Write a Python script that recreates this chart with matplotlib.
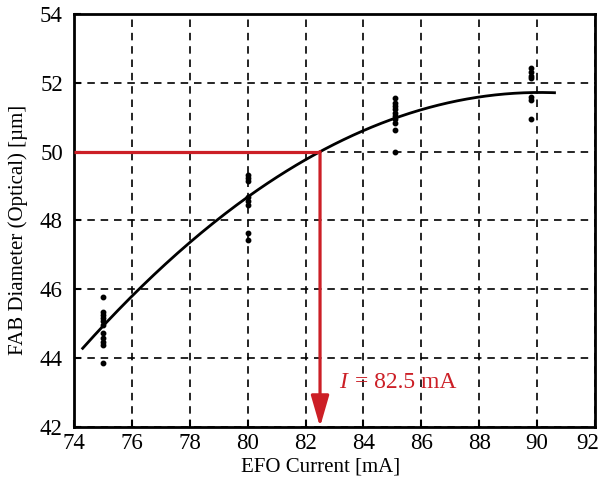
import numpy as np
import matplotlib
matplotlib.use("Agg")
import matplotlib.pyplot as plt
import matplotlib.transforms as mtransforms

plt.rcParams['font.family'] = ['Liberation Serif', 'DejaVu Serif']

# measured data
current_75 = [75.0] * 11
diam_75 = [45.79, 45.35, 45.25, 45.17, 45.07, 44.96, 44.73, 44.59, 44.47, 44.38, 43.86]
current_80 = [80.0] * 8
diam_80 = [49.32, 49.24, 49.15, 48.68, 48.57, 48.45, 47.64, 47.43]
current_85 = [85.1] * 10
diam_85 = [51.55, 51.42, 51.33, 51.24, 51.12, 51.04, 50.95, 50.83, 50.63, 50.0]
current_90 = [89.8] * 7
diam_90 = [52.43, 52.31, 52.2, 52.14, 51.59, 51.5, 50.95]

# quadratic trend line (vertex form)
fit_peak_current = 90.1
fit_peak_diam = 51.72
fit_curvature = 0.02978
fit_range = (74.3, 90.6)

target_diam = 50.0
target_current = 82.5

xticks = [74, 76, 78, 80, 82, 84, 86, 88, 90, 92]
yticks = [42, 44, 46, 48, 50, 52, 54]

x_all = np.array(current_75 + current_80 + current_85 + current_90)
y_all = np.array(diam_75 + diam_80 + diam_85 + diam_90)

fig = plt.figure(figsize=(6.0, 4.83), dpi=100)
ax = fig.add_axes([0.1233, 0.116, 0.8684, 0.855])

red = '#cc1f26'
ax.set_xlim(74, 92)
ax.set_ylim(42, 54)
ax.set_xticks(xticks)
ax.set_yticks(yticks)
ax.grid(True, color='black', linestyle=(0, (4.5, 3.5)), linewidth=1.2)
ax.set_axisbelow(True)

xf = np.linspace(fit_range[0], fit_range[1], 200)
yf = fit_peak_diam - fit_curvature * (xf - fit_peak_current) ** 2
ax.plot(xf, yf, color='black', lw=2.0, zorder=3)
ax.plot(x_all, y_all, 'o', color='black', ms=3.2, zorder=4)

# red guide lines
ax.plot([74, target_current], [target_diam, target_diam], color=red, lw=2.3, zorder=5, solid_capstyle='butt')
ax.annotate('', xy=(target_current, 42), xytext=(target_current, target_diam),
            arrowprops=dict(arrowstyle='-|>,head_length=1.9,head_width=0.55', color=red, lw=2.3,
                            shrinkA=0, shrinkB=0), zorder=5)
ax.text(83.15, 43.28, 'I', color=red, fontsize=17, style='italic', va='center', ha='left')
ax.text(83.70, 43.28, '= 82.5 mA', color=red, fontsize=17, va='center', ha='left')

for s in ax.spines.values():
    s.set_linewidth(2.0)
ax.tick_params(direction='in', length=5, width=1.5, labelsize=16.5, top=False, right=False)
ax.tick_params(axis='y', pad=8)
ax.tick_params(axis='x', pad=4)
ax.set_xlabel('EFO Current [mA]', fontsize=15)
ax.set_ylabel('FAB Diameter (Optical) [µm]', fontsize=15)
ax.xaxis.set_label_coords(0.474, -0.075)
ax.yaxis.set_label_coords(-0.088, 0.477)

fig.canvas.draw()
last = ax.get_xticklabels()[-1]
last.set_transform(last.get_transform() + mtransforms.ScaledTranslation(-7 / 100, 0, fig.dpi_scale_trans))

fig.savefig('out.png', dpi=100)
